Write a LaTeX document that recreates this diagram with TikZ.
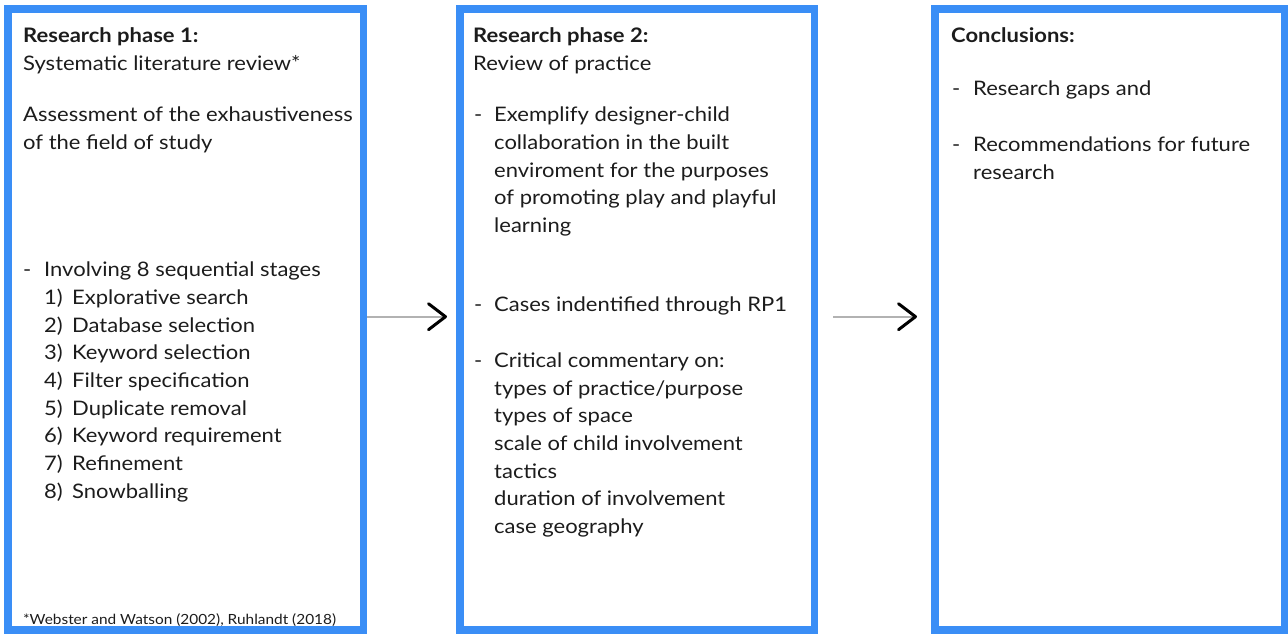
\documentclass[tikz,border=0pt]{standalone}
\usepackage{fontspec}
\setmainfont{Lato}[FakeStretch=1.1]
\usetikzlibrary{arrows.meta}
\definecolor{boxblue}{RGB}{58,142,246}
\definecolor{txtcol}{RGB}{28,28,28}
\definecolor{linegray}{RGB}{178,178,178}
\tikzset{
  phasebox/.style={draw=boxblue, line width=7.5pt, rectangle, inner sep=0pt, minimum height=621pt},
  txt/.style={anchor=base west, inner sep=0pt, text=txtcol, font=\fontsize{20}{27.7}\selectfont},
  foot/.style={anchor=base west, inner sep=0pt, text=txtcol, font=\fontsize{14}{17}\selectfont},
  conn/.style={draw=linegray, line width=2pt, -{Straight Barb[length=17pt, width=26pt, line width'=3pt, color=black, round]}}
}
\begin{document}
\begin{tikzpicture}[x=1pt, y=-1pt]
\useasboundingbox (0,0) rectangle (1288,634);
% boxes
\node[phasebox, minimum width=355.5pt] (b1) at (185.75,319.5) {};
\node[phasebox, minimum width=354.5pt] (b2) at (637.25,319.5) {};
\node[phasebox, minimum width=349.5pt] (b3) at (1109.75,319.5) {};
% box 1 text
\node[txt] (h1) at (23,42.7) {\textbf{Research phase 1:}};
\node[txt] (h1a) at (23,70.4) {Systematic literature review*};
\node[txt] (h1b) at (23,121.7) {Assessment of the exhaustiveness};
\node[txt] (h1c) at (23,149.4) {of the field of study};
\node[txt] (d1) at (23,276.7) {-};
\node[txt] (i1) at (44,276.7) {Involving 8 sequential stages};
\foreach \t [count=\i] in {Explorative search, Database selection, Keyword selection, Filter specification, Duplicate removal, Keyword requirement, Refinement, Snowballing}{
  \node[txt] (n\i) at (44,276.7+27.7*\i) {\i)};
  \node[txt] (s\i) at (72,276.7+27.7*\i) {\t};
}
\node[foot] (fn) at (23,624) {*Webster and Watson (2002), Ruhlandt (2018)};
% box 2 text
\node[txt] (h2) at (473,42.7) {\textbf{Research phase 2:}};
\node[txt] (h2a) at (473,70.4) {Review of practice};
\node[txt] (d2a) at (474,121.7) {-};
\foreach \t [count=\i] in {Exemplify designer-child, collaboration in the built, enviroment for the purposes, of promoting play and playful, learning}{
  \node[txt] (e\i) at (494,121.7+27.7*\i-27.7) {\t};
}
\node[txt] (d2b) at (474,311) {-};
\node[txt] (c2) at (494,311) {Cases indentified through RP1};
\node[txt] (d2c) at (474,367.3) {-};
\foreach \t [count=\i] in {Critical commentary on:, types of practice/purpose, types of space, scale of child involvement, tactics, duration of involvement, case geography}{
  \node[txt] (k\i) at (494,367.3+27.7*\i-27.7) {\t};
}
% box 3 text
\node[txt] (h3) at (951,42.7) {\textbf{Conclusions:}};
\node[txt] (d3a) at (952,95.5) {-};
\node[txt] (r1) at (973,95.5) {Research gaps and};
\node[txt] (d3b) at (952,151.7) {-};
\node[txt] (r2) at (973,151.7) {Recommendations for future};
\node[txt] (r3) at (973,179.4) {research};
% connectors
\draw[conn, shorten >=9.25pt] ([yshift=2.8pt]b1.east) -- ([yshift=2.8pt]b2.west);
\draw[conn, shorten <=14.75pt, shorten >=14.25pt] ([yshift=2.8pt]b2.east) -- ([yshift=2.8pt]b3.west);
\end{tikzpicture}
\end{document}
